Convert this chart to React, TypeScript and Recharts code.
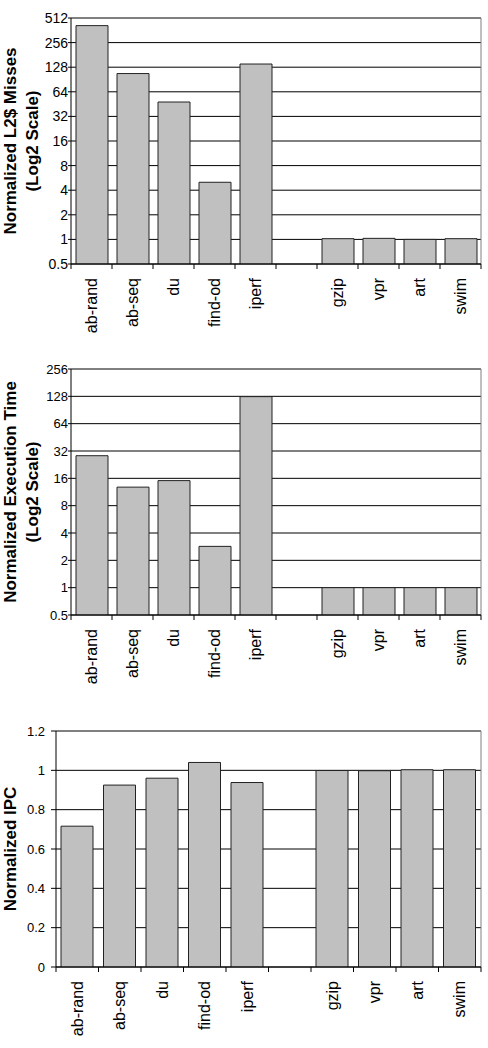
import React from 'react';
import { BarChart, Bar, XAxis, YAxis, CartesianGrid } from 'recharts';

const benchmarks = ['ab-rand', 'ab-seq', 'du', 'find-od', 'iperf', '', 'gzip', 'vpr', 'art', 'swim'];
const l2Misses = [413, 107, 48, 5.0, 140, null, 1.02, 1.03, 1.0, 1.02];
const execTime = [28.4, 12.8, 15.1, 2.85, 127, null, 1.0, 1.0, 1.0, 1.0];
const ipc = [0.716, 0.925, 0.96, 1.04, 0.938, null, 0.999, 0.998, 1.003, 1.003];

const l2Ticks = [0.5, 1, 2, 4, 8, 16, 32, 64, 128, 256, 512];
const execTicks = [0.5, 1, 2, 4, 8, 16, 32, 64, 128, 256];
const ipcTicks = [0, 0.2, 0.4, 0.6, 0.8, 1, 1.2];

const FONT = '"Liberation Sans", Arial, sans-serif';
const W = 488;
const RIGHT = 7;
const X_TICK = 5;
const X_MARGIN = 9;

const toRows = (values: (number | null)[]) =>
  benchmarks.map((name, i) => ({ name, value: values[i] }));

function CategoryTick(props: any) {
  const { x, y, payload, index, band } = props;
  const axisY = y - X_TICK - X_MARGIN;
  const half = band / 2;
  return (
    <g>
      {index === 0 && (
        <line x1={x - half} x2={x - half} y1={axisY} y2={axisY + X_TICK} stroke="#000" />
      )}
      <line x1={x + half} x2={x + half} y1={axisY} y2={axisY + X_TICK} stroke="#000" />
      {payload.value && (
        <text
          x={x}
          y={y}
          transform={`rotate(-90 ${x} ${y})`}
          textAnchor="end"
          dominantBaseline="central"
          fontSize={16}
          fontFamily={FONT}
          fill="#000"
        >
          {payload.value}
        </text>
      )}
    </g>
  );
}

function AxisTitle(props: any) {
  const { viewBox, lines } = props;
  const cy = viewBox.y + viewBox.height / 2;
  const xs = lines.length > 1 ? [16, 38] : [16];
  return (
    <g>
      {lines.map((t: string, i: number) => (
        <text
          key={i}
          x={xs[i]}
          y={cy}
          transform={`rotate(-90 ${xs[i]} ${cy})`}
          textAnchor="middle"
          fontSize={17}
          fontWeight="bold"
          fontFamily={FONT}
          fill="#000"
        >
          {t}
        </text>
      ))}
    </g>
  );
}

interface PanelProps {
  rows: { name: string; value: number | null }[];
  height: number;
  top: number;
  axisWidth: number;
  xHeight: number;
  log?: boolean;
  domain: [number, number];
  ticks: number[];
  title: string[];
  yTickSize: number;
  yTickMargin: number;
  yFont: number;
}

function Panel({ rows, height, top, axisWidth, xHeight, log, domain, ticks, title, yTickSize, yTickMargin, yFont }: PanelProps) {
  const band = (W - axisWidth - RIGHT) / benchmarks.length;
  return (
    <BarChart
      width={W}
      height={height}
      data={rows}
      margin={{ top, right: RIGHT, bottom: 0, left: 0 }}
      barSize={32}
      style={{ fontFamily: FONT }}
    >
      <CartesianGrid vertical={false} stroke="#000" />
      <CartesianGrid
        stroke="#808080"
        horizontalCoordinatesGenerator={({ offset }: any) => [offset.top]}
        verticalCoordinatesGenerator={({ offset }: any) => [offset.left + offset.width]}
      />
      <XAxis
        dataKey="name"
        height={xHeight}
        interval={0}
        tickLine={false}
        tickSize={X_TICK}
        tickMargin={X_MARGIN}
        axisLine={{ stroke: '#000' }}
        tick={<CategoryTick band={band} />}
      />
      <YAxis
        type="number"
        scale={log ? 'log' : 'linear'}
        domain={domain}
        ticks={ticks}
        interval={0}
        allowDataOverflow
        width={axisWidth}
        tickSize={yTickSize}
        tickMargin={yTickMargin}
        axisLine={{ stroke: '#000' }}
        tickLine={{ stroke: '#000' }}
        tick={{ fill: '#000', fontSize: yFont, fontFamily: FONT }}
        label={<AxisTitle lines={title} />}
      />
      <Bar dataKey="value" fill="#c0c0c0" stroke="#222" strokeWidth={1} isAnimationActive={false} />
    </BarChart>
  );
}

export default function App() {
  return (
    <div style={{ position: 'absolute', left: 0, top: 0, width: W, height: 1048, background: '#fff' }}>
      <Panel
        rows={toRows(l2Misses)}
        height={350}
        top={18}
        axisWidth={71}
        xHeight={86}
        log
        domain={[0.5, 512]}
        ticks={l2Ticks}
        title={['Normalized L2$ Misses', '(Log2 Scale)']}
        yTickSize={3}
        yTickMargin={0}
        yFont={14}
      />
      <Panel
        rows={toRows(execTime)}
        height={350}
        top={19}
        axisWidth={71}
        xHeight={85}
        log
        domain={[0.5, 256]}
        ticks={execTicks}
        title={['Normalized Execution Time', '(Log2 Scale)']}
        yTickSize={3}
        yTickMargin={0}
        yFont={13}
      />
      <Panel
        rows={toRows(ipc)}
        height={348}
        top={31}
        axisWidth={56}
        xHeight={81}
        domain={[0, 1.2]}
        ticks={ipcTicks}
        title={['Normalized IPC']}
        yTickSize={5}
        yTickMargin={6}
        yFont={13}
      />
    </div>
  );
}
